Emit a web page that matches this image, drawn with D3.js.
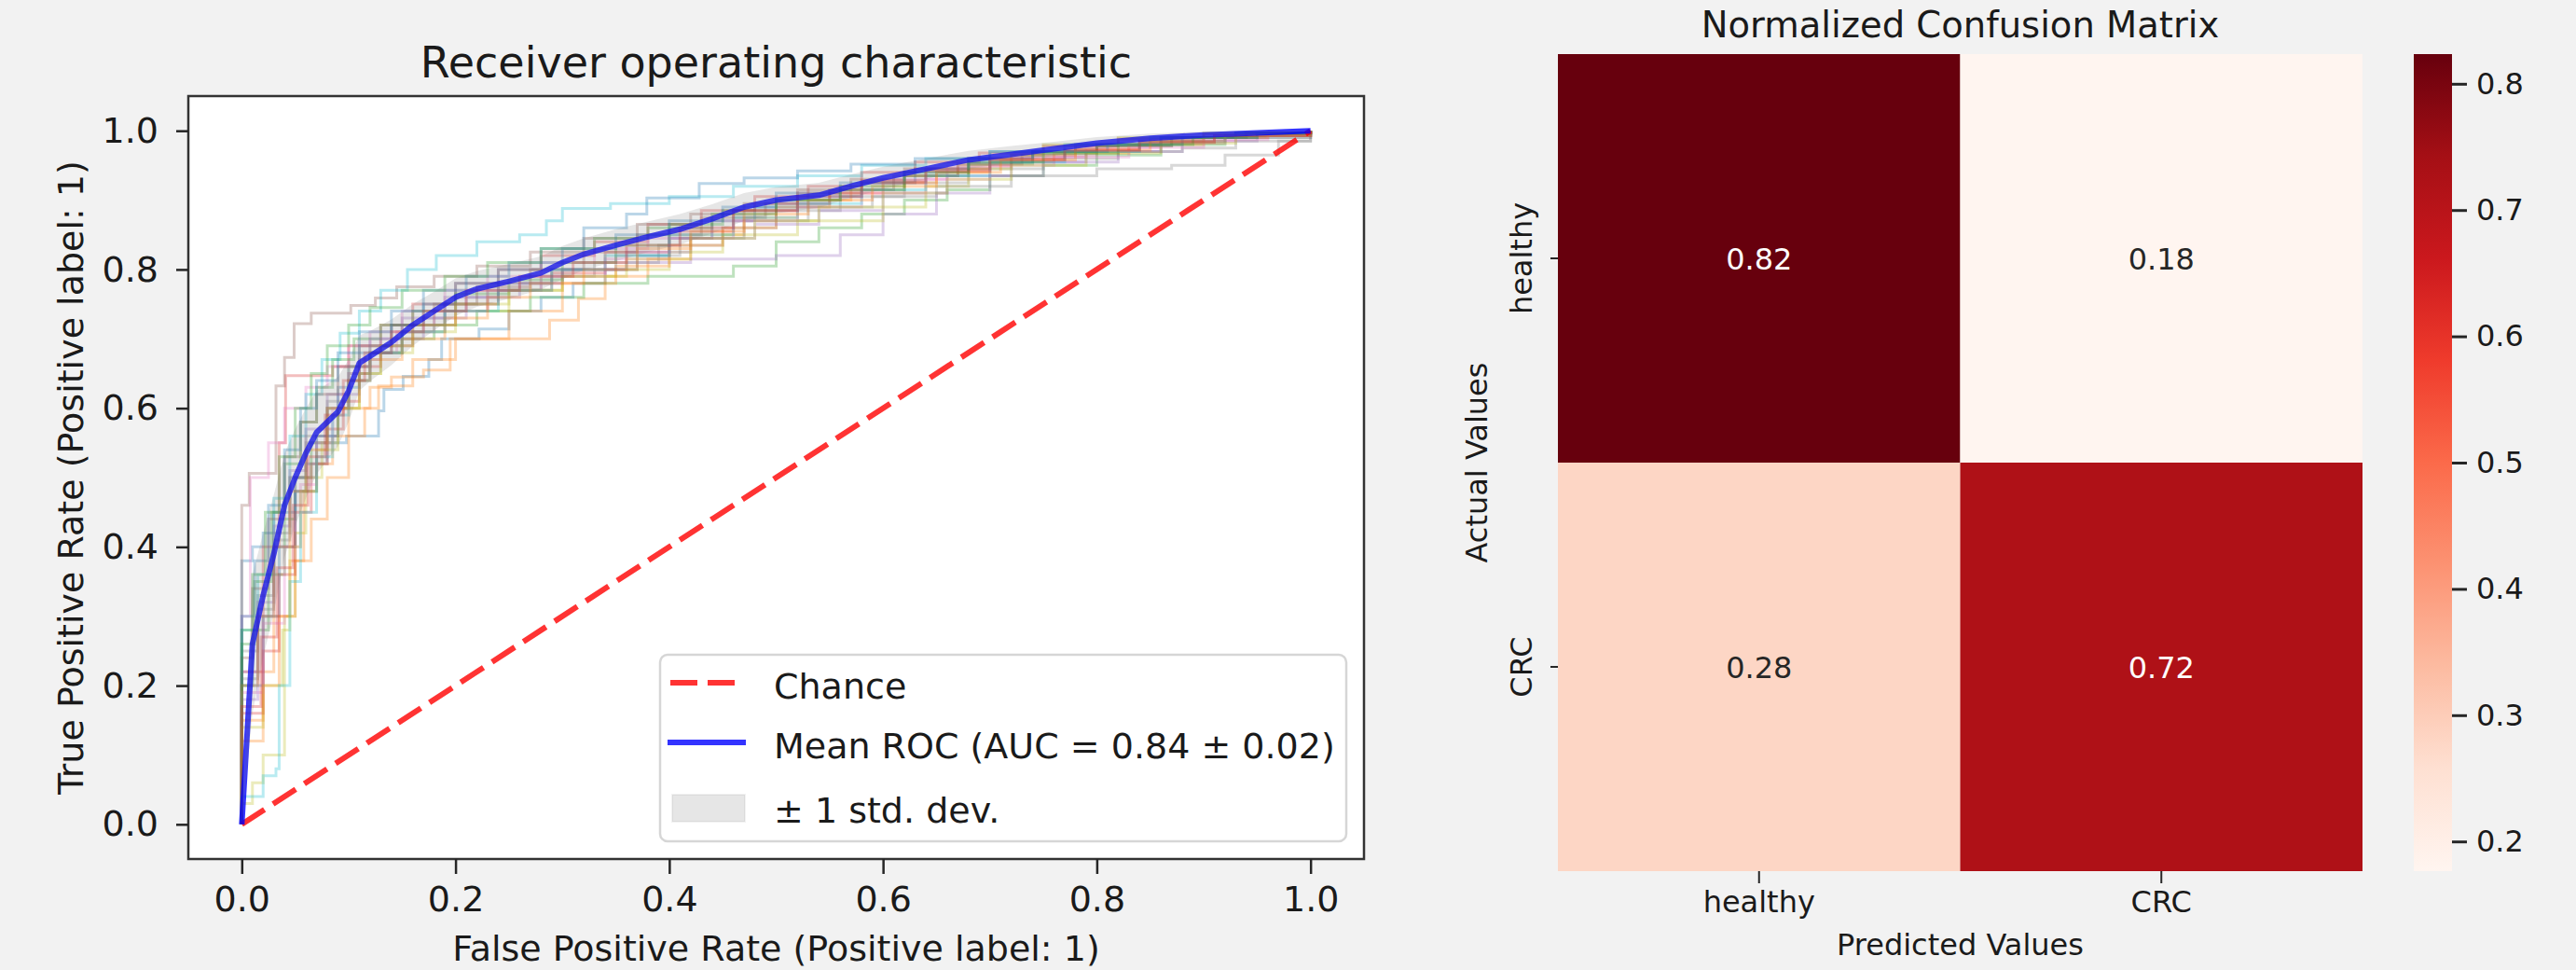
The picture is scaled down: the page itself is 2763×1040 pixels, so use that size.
<!DOCTYPE html>
<html>
<head>
<meta charset="utf-8">
<script src="https://cdn.jsdelivr.net/npm/d3@7"></script>
<style>
  html, body { margin: 0; padding: 0; background: #f2f2f2; }
  svg { display: block; }
  text { font-family: 'DejaVu Sans', sans-serif; fill: #1a1a1a; }
</style>
</head>
<body>
<svg id="chart" width="2763" height="1040"></svg>
<script>
// ---- data ----
const rocTicks = [0, 0.2, 0.4, 0.6, 0.8, 1.0];

// one step curve per CV fold: [fpr, tpr] where tpr climbs to the value at that fpr
const foldCurves = [
  [[0,0],[0,0.38],[0.01,0.4],[0.02,0.42],[0.03,0.45],[0.05,0.48],[0.06,0.52],[0.08,0.55],[0.098,0.56],[0.128,0.596],[0.133,0.627],[0.151,0.646],[0.175,0.67],[0.187,0.70],[0.222,0.714],[0.25,0.74],[0.28,0.76],[0.31,0.78],[0.34,0.80],[0.37,0.82],[0.4,0.845],[0.44,0.87],[0.48,0.89],[0.53,0.905],[0.58,0.925],[0.63,0.945],[0.68,0.96],[0.74,0.97],[0.8,0.98],[0.86,0.99],[0.93,0.997],[1,1]],
  [[0,0],[0,0.15],[0.02,0.22],[0.03,0.3],[0.045,0.38],[0.058,0.48],[0.07,0.52],[0.085,0.56],[0.1,0.6],[0.12,0.63],[0.14,0.645],[0.17,0.655],[0.195,0.70],[0.288,0.727],[0.315,0.758],[0.34,0.79],[0.38,0.815],[0.42,0.85],[0.47,0.875],[0.52,0.9],[0.57,0.915],[0.62,0.935],[0.67,0.95],[0.72,0.965],[0.78,0.975],[0.84,0.985],[0.9,0.99],[0.96,0.997],[1,1]],
  [[0,0],[0,0.2],[0.01,0.28],[0.025,0.36],[0.04,0.44],[0.05,0.5],[0.065,0.55],[0.08,0.6],[0.1,0.66],[0.12,0.68],[0.15,0.7],[0.18,0.72],[0.22,0.74],[0.27,0.76],[0.32,0.78],[0.38,0.79],[0.46,0.805],[0.5,0.84],[0.54,0.86],[0.58,0.88],[0.62,0.9],[0.66,0.915],[0.7,0.935],[0.75,0.95],[0.8,0.965],[0.86,0.98],[0.92,0.99],[1,1]],
  [[0,0],[0,0.22],[0.02,0.4],[0.035,0.55],[0.041,0.647],[0.085,0.66],[0.1,0.69],[0.13,0.72],[0.16,0.75],[0.2,0.78],[0.24,0.8],[0.28,0.82],[0.33,0.84],[0.38,0.865],[0.43,0.885],[0.48,0.905],[0.53,0.92],[0.58,0.94],[0.63,0.955],[0.69,0.968],[0.75,0.978],[0.82,0.988],[0.9,0.995],[1,1]],
  [[0,0],[0,0.18],[0.015,0.3],[0.03,0.4],[0.05,0.5],[0.07,0.56],[0.09,0.62],[0.11,0.67],[0.13,0.7],[0.17,0.73],[0.21,0.76],[0.26,0.78],[0.3,0.8],[0.36,0.81],[0.42,0.815],[0.5,0.82],[0.56,0.85],[0.6,0.88],[0.65,0.91],[0.7,0.935],[0.75,0.955],[0.82,0.97],[0.88,0.985],[0.95,0.993],[1,1]],
  [[0,0],[0,0.46],[0.007,0.506],[0.032,0.632],[0.04,0.673],[0.049,0.722],[0.065,0.737],[0.102,0.748],[0.125,0.759],[0.145,0.775],[0.18,0.79],[0.22,0.805],[0.27,0.825],[0.32,0.845],[0.37,0.865],[0.42,0.88],[0.47,0.895],[0.52,0.915],[0.57,0.93],[0.62,0.945],[0.68,0.96],[0.74,0.97],[0.8,0.98],[0.86,0.99],[0.93,0.997],[1,1]],
  [[0,0],[0,0.3],[0.008,0.5],[0.025,0.55],[0.04,0.6],[0.06,0.63],[0.08,0.66],[0.1,0.69],[0.12,0.71],[0.15,0.74],[0.19,0.77],[0.23,0.79],[0.28,0.81],[0.33,0.83],[0.38,0.845],[0.44,0.87],[0.5,0.895],[0.55,0.91],[0.6,0.93],[0.66,0.948],[0.72,0.962],[0.79,0.975],[0.86,0.985],[0.93,0.993],[1,1]],
  [[0,0],[0,0.25],[0.015,0.33],[0.03,0.42],[0.045,0.5],[0.06,0.55],[0.08,0.6],[0.1,0.64],[0.12,0.68],[0.15,0.71],[0.19,0.74],[0.23,0.77],[0.28,0.79],[0.33,0.81],[0.39,0.835],[0.45,0.86],[0.5,0.885],[0.56,0.905],[0.62,0.925],[0.68,0.945],[0.75,0.96],[0.82,0.97],[0.88,0.975],[0.93,0.985],[1,1]],
  [[0,0],[0,0.03],[0.01,0.06],[0.02,0.1],[0.04,0.3],[0.05,0.42],[0.06,0.5],[0.075,0.55],[0.09,0.6],[0.11,0.65],[0.13,0.68],[0.16,0.71],[0.2,0.74],[0.25,0.77],[0.3,0.79],[0.35,0.8],[0.4,0.825],[0.45,0.85],[0.52,0.87],[0.6,0.89],[0.64,0.92],[0.68,0.945],[0.72,0.965],[0.75,0.98],[0.82,0.99],[0.9,0.997],[1,1]],
  [[0,0],[0,0.28],[0.015,0.36],[0.03,0.47],[0.045,0.56],[0.06,0.62],[0.075,0.67],[0.092,0.708],[0.11,0.74],[0.13,0.77],[0.155,0.8],[0.182,0.82],[0.22,0.84],[0.26,0.85],[0.285,0.87],[0.3,0.888],[0.345,0.895],[0.4,0.905],[0.46,0.92],[0.52,0.935],[0.58,0.95],[0.64,0.96],[0.7,0.97],[0.77,0.98],[0.85,0.99],[0.93,0.997],[1,1]],
  [[0,0],[0,0.2],[0.02,0.3],[0.035,0.4],[0.05,0.48],[0.07,0.56],[0.09,0.63],[0.11,0.68],[0.14,0.72],[0.17,0.75],[0.2,0.78],[0.24,0.8],[0.28,0.83],[0.32,0.86],[0.36,0.88],[0.379,0.903],[0.428,0.924],[0.47,0.932],[0.52,0.942],[0.57,0.952],[0.63,0.96],[0.7,0.97],[0.78,0.98],[0.86,0.99],[0.93,0.997],[1,1]],
  [[0,0],[0,0.12],[0.02,0.2],[0.035,0.3],[0.05,0.38],[0.065,0.44],[0.08,0.5],[0.1,0.56],[0.115,0.6],[0.128,0.632],[0.16,0.67],[0.2,0.7],[0.25,0.74],[0.3,0.78],[0.35,0.805],[0.4,0.835],[0.45,0.86],[0.5,0.89],[0.55,0.91],[0.6,0.925],[0.65,0.94],[0.7,0.955],[0.76,0.968],[0.83,0.98],[0.9,0.99],[0.96,0.997],[1,1]],
  [[0,0],[0,0.26],[0.012,0.35],[0.028,0.45],[0.04,0.52],[0.055,0.58],[0.07,0.63],[0.085,0.67],[0.105,0.7],[0.13,0.72],[0.16,0.74],[0.2,0.765],[0.25,0.785],[0.3,0.81],[0.35,0.835],[0.4,0.865],[0.45,0.885],[0.5,0.9],[0.56,0.915],[0.62,0.935],[0.68,0.952],[0.74,0.968],[0.8,0.978],[0.87,0.99],[0.94,0.996],[1,1]],
  [[0,0],[0,0.16],[0.02,0.25],[0.035,0.36],[0.05,0.45],[0.065,0.52],[0.08,0.57],[0.095,0.61],[0.11,0.66],[0.13,0.69],[0.16,0.72],[0.2,0.75],[0.24,0.77],[0.29,0.795],[0.34,0.825],[0.4,0.855],[0.46,0.885],[0.52,0.91],[0.58,0.928],[0.64,0.945],[0.7,0.96],[0.77,0.972],[0.84,0.983],[0.91,0.993],[1,1]],
  [[0,0],[0,0.22],[0.015,0.32],[0.03,0.43],[0.045,0.51],[0.06,0.57],[0.08,0.62],[0.1,0.66],[0.12,0.7],[0.15,0.73],[0.19,0.76],[0.24,0.78],[0.3,0.8],[0.36,0.825],[0.42,0.845],[0.48,0.865],[0.54,0.885],[0.6,0.91],[0.66,0.935],[0.72,0.955],[0.79,0.97],[0.86,0.982],[0.92,0.99],[1,1]],
  [[0,0],[0,0.24],[0.01,0.34],[0.025,0.44],[0.04,0.53],[0.055,0.58],[0.07,0.62],[0.09,0.66],[0.11,0.69],[0.14,0.72],[0.18,0.75],[0.22,0.775],[0.27,0.8],[0.32,0.825],[0.37,0.85],[0.43,0.875],[0.49,0.895],[0.55,0.915],[0.61,0.935],[0.67,0.952],[0.73,0.965],[0.8,0.978],[0.87,0.99],[0.94,0.997],[1,1]],
  [[0,0],[0,0.19],[0.02,0.29],[0.04,0.4],[0.055,0.49],[0.07,0.55],[0.085,0.6],[0.1,0.65],[0.12,0.68],[0.145,0.71],[0.18,0.74],[0.23,0.77],[0.28,0.79],[0.34,0.815],[0.4,0.845],[0.46,0.87],[0.52,0.89],[0.58,0.91],[0.64,0.93],[0.7,0.95],[0.76,0.962],[0.83,0.976],[0.9,0.987],[0.96,0.995],[1,1]],
  [[0,0],[0,0.21],[0.015,0.31],[0.03,0.41],[0.045,0.5],[0.06,0.56],[0.08,0.61],[0.1,0.65],[0.12,0.69],[0.15,0.72],[0.19,0.75],[0.24,0.78],[0.29,0.8],[0.35,0.82],[0.41,0.845],[0.47,0.87],[0.53,0.89],[0.59,0.905],[0.65,0.92],[0.72,0.935],[0.8,0.945],[0.87,0.95],[0.92,0.965],[0.97,0.985],[1,1]],
  [[0,0],[0,0.14],[0.02,0.2],[0.038,0.28],[0.045,0.4],[0.055,0.48],[0.07,0.54],[0.09,0.6],[0.11,0.65],[0.13,0.69],[0.16,0.72],[0.2,0.75],[0.25,0.77],[0.3,0.79],[0.36,0.815],[0.42,0.845],[0.48,0.87],[0.54,0.89],[0.6,0.91],[0.66,0.93],[0.72,0.95],[0.79,0.968],[0.86,0.982],[0.93,0.993],[1,1]],
  [[0,0],[0,0.04],[0.02,0.07],[0.032,0.08],[0.035,0.2],[0.045,0.35],[0.055,0.45],[0.07,0.53],[0.085,0.59],[0.1,0.64],[0.12,0.68],[0.15,0.71],[0.19,0.74],[0.24,0.77],[0.29,0.8],[0.34,0.82],[0.4,0.85],[0.46,0.875],[0.52,0.895],[0.58,0.915],[0.64,0.935],[0.7,0.955],[0.77,0.97],[0.84,0.985],[0.92,0.994],[1,1]],
  [[0,0],[0,0.3],[0.012,0.38],[0.025,0.46],[0.04,0.54],[0.055,0.6],[0.07,0.64],[0.09,0.68],[0.11,0.71],[0.14,0.74],[0.17,0.77],[0.21,0.79],[0.25,0.81],[0.3,0.83],[0.35,0.85],[0.4,0.87],[0.45,0.89],[0.5,0.91],[0.56,0.925],[0.62,0.94],[0.68,0.955],[0.74,0.97],[0.81,0.98],[0.88,0.99],[0.95,0.997],[1,1]],
  [[0,0],[0,0.2],[0.015,0.3],[0.03,0.4],[0.045,0.48],[0.06,0.54],[0.08,0.6],[0.1,0.64],[0.12,0.67],[0.15,0.7],[0.19,0.73],[0.23,0.76],[0.27,0.78],[0.32,0.8],[0.37,0.83],[0.42,0.855],[0.47,0.88],[0.53,0.9],[0.59,0.92],[0.65,0.94],[0.71,0.958],[0.78,0.972],[0.85,0.985],[0.92,0.994],[1,1]],
  [[0,0],[0,0.28],[0.01,0.36],[0.022,0.45],[0.035,0.53],[0.05,0.6],[0.065,0.65],[0.08,0.69],[0.1,0.72],[0.12,0.745],[0.15,0.77],[0.19,0.79],[0.23,0.81],[0.28,0.83],[0.33,0.845],[0.38,0.86],[0.44,0.88],[0.5,0.9],[0.56,0.92],[0.62,0.94],[0.68,0.955],[0.75,0.968],[0.82,0.98],[0.89,0.99],[0.95,0.996],[1,1]],
  [[0,0],[0,0.17],[0.018,0.27],[0.033,0.37],[0.048,0.46],[0.062,0.53],[0.078,0.59],[0.095,0.64],[0.115,0.68],[0.14,0.71],[0.17,0.74],[0.21,0.77],[0.26,0.79],[0.31,0.81],[0.36,0.835],[0.41,0.86],[0.46,0.885],[0.52,0.905],[0.58,0.925],[0.64,0.942],[0.7,0.958],[0.77,0.972],[0.84,0.984],[0.91,0.993],[1,1]],
];

const meanFpr = [0, 0.01, 0.02, 0.03, 0.04, 0.05, 0.06, 0.07, 0.08, 0.09, 0.1, 0.11, 0.12, 0.14, 0.16, 0.18, 0.2, 0.22, 0.25, 0.28, 0.3, 0.32, 0.35, 0.38, 0.41, 0.44, 0.47, 0.5, 0.54, 0.57, 0.6, 0.64, 0.68, 0.72, 0.76, 0.8, 0.85, 0.9, 0.95, 1];
const meanTpr = [0, 0.26, 0.33, 0.39, 0.46, 0.5, 0.535, 0.565, 0.58, 0.595, 0.625, 0.665, 0.675, 0.695, 0.72, 0.74, 0.76, 0.772, 0.783, 0.795, 0.81, 0.822, 0.835, 0.847, 0.858, 0.873, 0.89, 0.9, 0.907, 0.92, 0.932, 0.945, 0.958, 0.966, 0.974, 0.982, 0.989, 0.994, 0.997, 1];
const stdTpr = [0, 0.1, 0.09, 0.085, 0.075, 0.07, 0.065, 0.06, 0.055, 0.05, 0.045, 0.04, 0.036, 0.033, 0.03, 0.028, 0.027, 0.026, 0.025, 0.024, 0.024, 0.023, 0.023, 0.022, 0.022, 0.021, 0.02, 0.019, 0.018, 0.017, 0.016, 0.015, 0.013, 0.012, 0.01, 0.009, 0.007, 0.005, 0.003, 0];
const meanAuc = 0.84;
const stdAuc = 0.02;

const classLabels = ['healthy', 'CRC'];
const cmValues = [[0.8235, 0.1765], [0.2787, 0.7213]];
const cbarTicks = [0.2, 0.3, 0.4, 0.5, 0.6, 0.7, 0.8];

const tab10 = ['#1f77b4', '#ff7f0e', '#2ca02c', '#d62728', '#9467bd',
  '#8c564b', '#e377c2', '#7f7f7f', '#bcbd22', '#17becf'];
// matplotlib "Reds"
const redsStops = ['#fff5f0', '#fee0d2', '#fcbba1', '#fc9272', '#fb6a4a',
  '#ef3b2c', '#cb181d', '#a50f15', '#67000d'];

const svg = d3.select('#chart');
const INK = '#262626';

function styleAxis(g, size, width) {
  g.select('.domain').remove();
  g.selectAll('.tick line').attr('stroke', INK).attr('stroke-width', width);
  g.selectAll('.tick text').attr('font-size', size).attr('fill', '#1a1a1a');
}

// ================= ROC panel =================
const roc = { left: 202, right: 1463, top: 103, bottom: 921 };
const x = d3.scaleLinear().domain([-0.05, 1.05]).range([roc.left, roc.right]);
const y = d3.scaleLinear().domain([-0.05, 1.05]).range([roc.bottom, roc.top]);

svg.append('rect')
  .attr('x', roc.left).attr('y', roc.top)
  .attr('width', roc.right - roc.left).attr('height', roc.bottom - roc.top)
  .attr('fill', '#fff');

const plots = svg.append('g').attr('class', 'plots');

const stepLine = d3.line()
  .x((d) => x(d[0]))
  .y((d) => y(d[1]))
  .curve(d3.curveStepAfter);

plots.selectAll('path.fold')
  .data(foldCurves)
  .join('path')
  .attr('class', 'fold')
  .attr('d', stepLine)
  .attr('fill', 'none')
  .attr('stroke', (d, i) => tab10[i % 10])
  .attr('stroke-opacity', 0.3)
  .attr('stroke-width', 3);

const straight = d3.line().x((d) => x(d[0])).y((d) => y(d[1]));

// chance diagonal
plots.append('path')
  .datum([[0, 0], [1, 1]])
  .attr('d', straight)
  .attr('fill', 'none')
  .attr('stroke', '#ff0000')
  .attr('stroke-opacity', 0.8)
  .attr('stroke-width', 6)
  .attr('stroke-dasharray', '29,11');

// mean ROC
plots.append('path')
  .datum(meanFpr.map((f, i) => [f, meanTpr[i]]))
  .attr('d', straight)
  .attr('fill', 'none')
  .attr('stroke', '#0000ff')
  .attr('stroke-opacity', 0.8)
  .attr('stroke-width', 6)
  .attr('stroke-linejoin', 'round');

// +/- 1 std band
const band = d3.area()
  .x((d, i) => x(meanFpr[i]))
  .y0((d, i) => y(Math.max(d - stdTpr[i], 0)))
  .y1((d, i) => y(Math.min(d + stdTpr[i], 1)));

plots.append('path')
  .datum(meanTpr)
  .attr('d', band)
  .attr('fill', '#808080')
  .attr('fill-opacity', 0.2);

// spines
svg.append('rect')
  .attr('x', roc.left).attr('y', roc.top)
  .attr('width', roc.right - roc.left).attr('height', roc.bottom - roc.top)
  .attr('fill', 'none')
  .attr('stroke', '#333')
  .attr('stroke-width', 2.5);

svg.append('g')
  .attr('transform', `translate(0,${roc.bottom})`)
  .call(d3.axisBottom(x).tickValues(rocTicks).tickFormat(d3.format('.1f'))
    .tickSize(16).tickPadding(13))
  .call((g) => styleAxis(g, 38, 2.5));

svg.append('g')
  .attr('transform', `translate(${roc.left},0)`)
  .call(d3.axisLeft(y).tickValues(rocTicks).tickFormat(d3.format('.1f'))
    .tickSize(13).tickPadding(19))
  .call((g) => styleAxis(g, 38, 2.5));

const rocMid = (roc.left + roc.right) / 2;
svg.append('text')
  .attr('x', rocMid).attr('y', 83)
  .attr('text-anchor', 'middle').attr('font-size', 46)
  .text('Receiver operating characteristic');

svg.append('text')
  .attr('x', rocMid).attr('y', 1030)
  .attr('text-anchor', 'middle').attr('font-size', 38)
  .text('False Positive Rate (Positive label: 1)');

svg.append('text')
  .attr('transform', `translate(89,${(roc.top + roc.bottom) / 2}) rotate(-90)`)
  .attr('text-anchor', 'middle').attr('font-size', 38)
  .text('True Positive Rate (Positive label: 1)');

// legend
const legend = svg.append('g').attr('class', 'legend');
legend.append('rect')
  .attr('x', 708).attr('y', 702)
  .attr('width', 736).attr('height', 200)
  .attr('rx', 8).attr('ry', 8)
  .attr('fill', '#fff').attr('fill-opacity', 0.8)
  .attr('stroke', '#d6d6d6').attr('stroke-width', 2.5);

legend.append('line')
  .attr('x1', 719).attr('x2', 797).attr('y1', 732).attr('y2', 732)
  .attr('stroke', '#ff0000').attr('stroke-opacity', 0.8)
  .attr('stroke-width', 6).attr('stroke-dasharray', '29,11');

legend.append('line')
  .attr('x1', 719).attr('x2', 797).attr('y1', 796).attr('y2', 796)
  .attr('stroke', '#0000ff').attr('stroke-opacity', 0.8)
  .attr('stroke-width', 6).attr('stroke-linecap', 'square');

legend.append('rect')
  .attr('x', 721).attr('y', 852).attr('width', 78).attr('height', 29)
  .attr('fill', '#808080').attr('fill-opacity', 0.2)
  .attr('stroke', '#808080').attr('stroke-opacity', 0.1).attr('stroke-width', 2);

const legendTexts = ['Chance', `Mean ROC (AUC = ${meanAuc.toFixed(2)} \u00b1 ${stdAuc.toFixed(2)})`, '\u00b1 1 std. dev.'];
const legendBase = [749, 813, 882];
legend.selectAll('text.item')
  .data(legendTexts)
  .join('text')
  .attr('class', 'item')
  .attr('x', 830)
  .attr('y', (d, i) => legendBase[i])
  .attr('font-size', 38)
  .text((d) => d);

// ================= confusion matrix =================
const hm = { left: 1671, right: 2534, top: 58, bottom: 934 };
const hx = d3.scaleBand().domain(classLabels).range([hm.left, hm.right]);
const hy = d3.scaleBand().domain(classLabels).range([hm.top, hm.bottom]);

const flat = cmValues.flat();
const vmin = d3.min(flat);
const vmax = d3.max(flat);
const reds = d3.scaleLinear()
  .domain(redsStops.map((c, i) => vmin + (vmax - vmin) * i / (redsStops.length - 1)))
  .range(redsStops)
  .interpolate(d3.interpolateRgb)
  .clamp(true);

const cells = [];
cmValues.forEach((row, r) => row.forEach((v, c) => {
  cells.push({ row: classLabels[r], col: classLabels[c], value: v });
}));

const heat = svg.append('g').attr('class', 'heat');
heat.selectAll('rect')
  .data(cells)
  .join('rect')
  .attr('x', (d) => hx(d.col))
  .attr('y', (d) => hy(d.row))
  .attr('width', hx.bandwidth())
  .attr('height', hy.bandwidth())
  .attr('fill', (d) => reds(d.value));

heat.selectAll('text')
  .data(cells)
  .join('text')
  .attr('x', (d) => hx(d.col) + hx.bandwidth() / 2)
  .attr('y', (d) => hy(d.row) + hy.bandwidth() / 2)
  .attr('dy', '0.36em')
  .attr('text-anchor', 'middle')
  .attr('font-size', 32)
  .style('fill', (d) => (d3.hsl(reds(d.value)).l > 0.55 ? INK : '#ffffff'))
  .text((d) => d3.format('.2f')(d.value));

svg.append('g')
  .attr('transform', `translate(0,${hm.bottom})`)
  .call(d3.axisBottom(hx).tickSize(13).tickPadding(8))
  .call((g) => styleAxis(g, 32, 2));

// rotated row labels: right edge of text box sits next to the tick
const yAxis = svg.append('g')
  .attr('transform', `translate(${hm.left},0)`)
  .call(d3.axisLeft(hy).tickSize(8).tickPadding(8))
  .call((g) => styleAxis(g, 32, 2));
yAxis.selectAll('.tick text')
  .attr('x', null).attr('dy', null)
  .attr('text-anchor', 'middle')
  .attr('transform', 'translate(-20,0) rotate(-90)')
  .each(function () {
    const bb = this.getBBox();
    d3.select(this).attr('y', -(bb.y + bb.height));
  });

const hmMid = (hm.left + hm.right) / 2;
svg.append('text')
  .attr('x', hmMid).attr('y', 40)
  .attr('text-anchor', 'middle').attr('font-size', 38.5)
  .text('Normalized Confusion Matrix');

svg.append('text')
  .attr('x', hmMid).attr('y', 1024)
  .attr('text-anchor', 'middle').attr('font-size', 32)
  .text('Predicted Values');

svg.append('text')
  .attr('transform', `translate(1595,${(hm.top + hm.bottom) / 2}) rotate(-90)`)
  .attr('text-anchor', 'middle').attr('font-size', 32)
  .text('Actual Values');

// colorbar
const cb = { left: 2589, width: 41 };
const cbScale = d3.scaleLinear().domain([vmin, vmax]).range([hm.bottom, hm.top]);

const grad = svg.append('defs').append('linearGradient')
  .attr('id', 'redsGrad')
  .attr('x1', 0).attr('y1', 1).attr('x2', 0).attr('y2', 0);
grad.selectAll('stop')
  .data(redsStops)
  .join('stop')
  .attr('offset', (d, i) => i / (redsStops.length - 1))
  .attr('stop-color', (d) => d);

svg.append('rect')
  .attr('x', cb.left).attr('y', hm.top)
  .attr('width', cb.width).attr('height', hm.bottom - hm.top)
  .attr('fill', 'url(#redsGrad)');

svg.append('g')
  .attr('transform', `translate(${cb.left + cb.width},0)`)
  .call(d3.axisRight(cbScale).tickValues(cbarTicks).tickFormat(d3.format('.1f'))
    .tickSize(16).tickPadding(10))
  .call((g) => styleAxis(g, 32, 3));
</script>
</body>
</html>
